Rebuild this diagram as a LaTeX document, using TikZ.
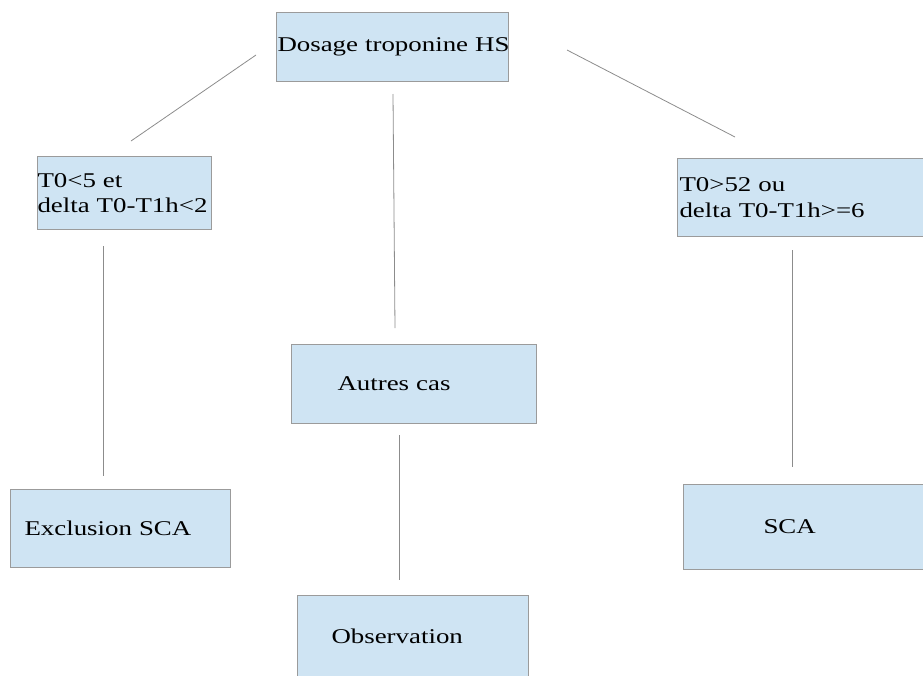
\documentclass[tikz,border=0pt]{standalone}
\usepackage{fontspec}
\setmainfont{Liberation Serif}[FakeStretch=1.28]
\usetikzlibrary{positioning}

\definecolor{boxblue}{RGB}{207,228,243}
\definecolor{boxgray}{RGB}{155,155,155}
\definecolor{linegray}{RGB}{140,140,140}

\begin{document}
\begin{tikzpicture}[x=1pt,y=-1pt,semithick,
  etape/.style={rectangle, draw=boxgray, line width=1pt, fill=boxblue, anchor=north west, align=left, inner ysep=0pt, font=\fontsize{21}{25.5}\selectfont},
  lien/.style={draw=linegray, line width=0.8pt}]
  \useasboundingbox (0,0) rectangle (923,675);

  \node[etape, inner xsep=1pt, text width=230pt, minimum height=69pt] (dosage) at (276,12) {\mbox{Dosage troponine HS}};
  \node[etape, inner xsep=0pt, text width=174pt, minimum height=73pt] (bas) at (37,156) {\mbox{T0<5 et}\\\mbox{delta T0-T1h<2}};
  \node[etape, inner xsep=2pt, text width=256pt, minimum height=78pt] (haut) at (677,158) {T0>52 ou\\delta T0-T1h>=6};
  \node[etape, inner xsep=46pt, text width=153pt, minimum height=79pt] (autres) at (291,344) {Autres cas};
  \node[etape, inner xsep=14pt, text width=192pt, minimum height=78pt] (exclu) at (10,489) {Exclusion SCA};
  \node[etape, inner xsep=80pt, text width=90pt, minimum height=85pt] (sca) at (683,484) {SCA};
  \node[etape, inner xsep=34pt, text width=163pt, minimum height=82pt] (observ) at (297,595) {Observation};

  % bouts des traits
  \coordinate (d1) at (256,55);  \coordinate (b1) at (131,141);
  \coordinate (d2) at (393,94);  \coordinate (a1) at (395,328);
  \coordinate (d3) at (567,50);  \coordinate (h1) at (735,137);
  \coordinate (b2) at (103,246); \coordinate (e1) at (103,476);
  \coordinate (a2) at (399,435); \coordinate (o1) at (399,580);
  \coordinate (h2) at (792,250); \coordinate (s1) at (792,467);

  \draw[lien] (d1) -- (b1);
  \draw[lien] (d2) -- (a1);
  \draw[lien] (d3) -- (h1);
  \draw[lien] (b2) -- (e1);
  \draw[lien] (a2) -- (o1);
  \draw[lien] (h2) -- (s1);
\end{tikzpicture}
\end{document}
